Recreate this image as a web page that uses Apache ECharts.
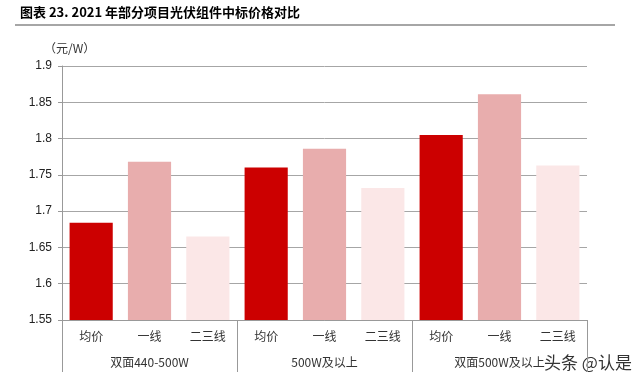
<!DOCTYPE html>
<html>
<head>
<meta charset="utf-8">
<script src="https://cdn.jsdelivr.net/npm/echarts@6/dist/echarts.min.js"></script>
<style>html,body{margin:0;padding:0;background:#fff}#c{width:640px;height:386px}</style>
</head>
<body>
<div id="c"></div>
<script>
var groups = ['双面440-500W', '500W及以上', '双面500W及以上'];
var tiers = ['均价', '一线', '二三线'];
var avgPrice = [1.684, 1.760, 1.805];
var tier1Price = [1.768, 1.786, 1.861];
var tier23Price = [1.665, 1.732, 1.763];
var yTicks = [1.55, 1.6, 1.65, 1.7, 1.75, 1.8, 1.85, 1.9];
var tierColors = ['#CC0000', '#E8ADAD', '#FBE7E7'];

var cats = [];
var vals = [];
for (var g = 0; g < groups.length; g++) {
  var row = [avgPrice[g], tier1Price[g], tier23Price[g]];
  for (var t = 0; t < tiers.length; t++) {
    cats.push(tiers[t]);
    vals.push({ value: row[t], itemStyle: { color: tierColors[t] } });
  }
}

var chart = echarts.init(document.getElementById('c'));
chart.setOption({
  animation: false,
  grid: { left: 62, right: 53, top: 66, bottom: 66 },
  xAxis: [{
    type: 'category',
    data: cats,
    axisLine: { show: true, lineStyle: { color: '#999', width: 1 } },
    axisTick: { show: false },
    axisLabel: { interval: 0, margin: 10, fontSize: 12, color: '#333', fontFamily: 'Noto Sans CJK SC' }
  }, {
    type: 'category',
    position: 'bottom',
    data: groups,
    axisLine: { show: false },
    axisTick: { show: true, length: 52, lineStyle: { color: '#999', width: 1 } },
    axisLabel: { interval: 0, margin: 36, fontSize: 12, color: '#333', fontFamily: 'Noto Sans CJK SC' }
  }],
  yAxis: {
    type: 'value',
    min: yTicks[0],
    max: yTicks[yTicks.length - 1],
    interval: 0.05,
    axisLine: { show: true, lineStyle: { color: '#999', width: 1 } },
    axisTick: { show: true, length: 4, lineStyle: { color: '#999' } },
    splitLine: { show: true, lineStyle: { color: '#a6a6a6', width: 1 } },
    axisLabel: {
      margin: 10, fontSize: 12, color: '#222', fontFamily: 'Liberation Sans',
      formatter: function (v) { return String(parseFloat(v.toFixed(2))); }
    }
  },
  series: [{
    type: 'bar',
    xAxisIndex: 0,
    data: vals,
    barWidth: '74%'
  }],
  graphic: [
    { type: 'text', left: 20, top: 6, style: { text: '图表 23. 2021 年部分项目光伏组件中标价格对比', fontSize: 13, fontWeight: 'bold', fill: '#000', fontFamily: 'Noto Sans CJK SC' } },
    { type: 'line', shape: { x1: 15, y1: 25, x2: 615, y2: 25 }, style: { stroke: '#888', lineWidth: 1.5 } },
    { type: 'text', left: 44, top: 42, style: { text: '（元/W）', fontSize: 12, fill: '#333', fontFamily: 'Noto Sans CJK SC' } },
    { type: 'text', left: 544, top: 354, style: { text: '头条 @认是', fontSize: 17, fill: '#333', fontFamily: 'Noto Sans CJK SC' } }
  ]
});
</script>
</body>
</html>
